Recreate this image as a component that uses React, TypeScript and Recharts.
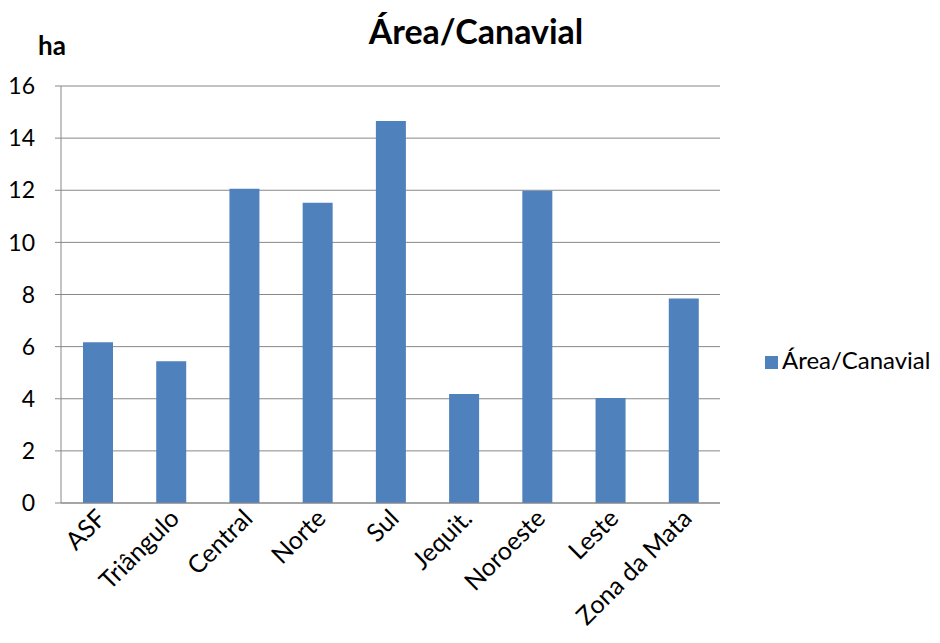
import { BarChart, Bar, XAxis, YAxis, CartesianGrid, Legend } from "recharts";

const regions = ["ASF", "Triângulo", "Central", "Norte", "Sul", "Jequit.", "Noroeste", "Leste", "Zona da Mata"];
const areaCanavial = [6.17, 5.44, 12.06, 11.52, 14.66, 4.18, 11.98, 4.03, 7.85];
const yTicks = [0, 2, 4, 6, 8, 10, 12, 14, 16];

const data = regions.map((name, i) => ({ name, area: areaCanavial[i] }));

const font = "Lato, 'Open Sans', sans-serif";

const RotatedTick = (props: any) => {
  const { x, y, payload } = props;
  return (
    <g transform={`translate(${x + 10},${y + 9})`}>
      <text transform="rotate(-45)" textAnchor="end" fontSize={25} fill="#000" fontFamily={font}>
        {payload.value}
      </text>
    </g>
  );
};

export default function App() {
  return (
    <div style={{ position: "absolute", left: 0, top: 0, width: 940, height: 643, background: "#fff" }}>
      <div
        style={{
          position: "absolute",
          left: 276,
          width: 400,
          top: 10,
          textAlign: "center",
          fontFamily: font,
          fontWeight: 700,
          fontSize: 34,
          color: "#000",
        }}
      >
        Área/Canavial
      </div>
      <div
        style={{ position: "absolute", left: 38, top: 29, fontFamily: font, fontWeight: 700, fontSize: 26, color: "#000" }}
      >
        ha
      </div>
      <BarChart width={940} height={643} data={data} margin={{ top: 86, right: 40, left: 0, bottom: 40 }}>
        <CartesianGrid vertical={false} stroke="#888" strokeWidth={1} />
        <XAxis
          dataKey="name"
          height={100}
          interval={0}
          tick={<RotatedTick />}
          tickLine={false}
          axisLine={{ stroke: "#888" }}
        />
        <YAxis
          width={61}
          domain={[0, 16]}
          ticks={yTicks}
          tickSize={6}
          tickMargin={20}
          tickLine={{ stroke: "#888" }}
          axisLine={{ stroke: "#888" }}
          tick={{ fontSize: 23, fill: "#000", fontFamily: font }}
        />
        <Legend
          layout="vertical"
          align="right"
          verticalAlign="middle"
          iconType="square"
          iconSize={13}
          wrapperStyle={{ left: 765, top: 345, width: 180, whiteSpace: "nowrap", fontFamily: font, fontSize: 24 }}
          formatter={(v: string) => <span style={{ color: "#000" }}>{v}</span>}
        />
        <Bar dataKey="area" name="Área/Canavial" fill="#4f81bd" barSize={30} isAnimationActive={false} />
      </BarChart>
    </div>
  );
}
